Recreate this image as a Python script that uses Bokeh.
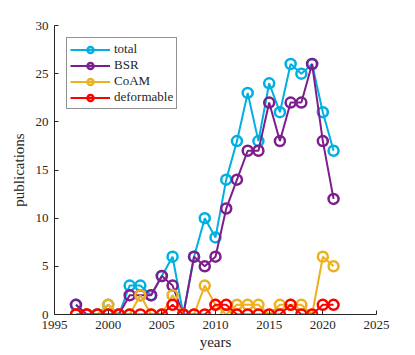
from bokeh.plotting import figure
from bokeh.models import Range1d, FixedTicker, Legend
from bokeh.embed import file_html
from bokeh.resources import INLINE

years = list(range(1997, 2022))
total = [1, 0, 0, 1, 0, 3, 3, 2, 4, 6, 0, 6, 10, 8, 14, 18, 23, 18, 24, 21, 26, 25, 26, 21, 17]
bsr = [1, 0, 0, 0, 0, 2, 2, 2, 4, 3, 0, 6, 5, 6, 11, 14, 17, 17, 22, 18, 22, 22, 26, 18, 12]
coam = [0, 0, 0, 1, 0, 0, 2, 0, 0, 2, 0, 0, 3, 1, 0, 1, 1, 1, 0, 1, 1, 1, 0, 6, 5]
deformable = [0, 0, 0, 0, 0, 0, 0, 0, 0, 1, 0, 0, 0, 1, 1, 0, 0, 0, 0, 0, 1, 0, 0, 1, 1]

series = [
    ("total", total, "#00B0E0"),
    ("BSR", bsr, "#7E1E8E"),
    ("CoAM", coam, "#EDB120"),
    ("deformable", deformable, "#FF0000"),
]
x_ticks = [1995, 2000, 2005, 2010, 2015, 2020, 2025]
y_ticks = [0, 5, 10, 15, 20, 25, 30]

FONT = "Liberation Serif"
AX = "#262626"

p = figure(width=410, height=355, output_backend="svg", toolbar_location=None,
           x_range=Range1d(1995, 2025), y_range=Range1d(0, 30),
           min_border_left=54, min_border_right=34, min_border_top=25, min_border_bottom=41)
p.grid.visible = False
p.outline_line_color = None
p.background_fill_color = "white"
p.border_fill_color = "white"

for ax, ticks in ((p.xaxis, x_ticks), (p.yaxis, y_ticks)):
    ax.ticker = FixedTicker(ticks=ticks)
    ax.minor_tick_line_color = None
    ax.major_tick_in = 4
    ax.major_tick_out = 0
    ax.axis_line_color = AX
    ax.major_tick_line_color = AX
    ax.major_label_text_font = FONT
    ax.major_label_text_font_size = "13px"
    ax.major_label_text_color = AX
    ax.axis_label_text_font = FONT
    ax.axis_label_text_font_size = "15px"
    ax.axis_label_text_font_style = "normal"
    ax.axis_label_text_color = AX

p.xaxis.axis_label = "years"
p.yaxis.axis_label = "publications"
p.xaxis.major_label_standoff = 6
p.xaxis.axis_label_standoff = 2
p.yaxis.major_label_standoff = 6
p.yaxis.axis_label_standoff = 6

items = []
for name, vals, col in series:
    l = p.line(years, vals, line_color=col, line_width=2)
    s = p.scatter(years, vals, marker="circle", size=10, line_color=col,
                  line_width=2.5, fill_color=None)
    items.append((name, [l, s]))

leg = Legend(items=items, location="top_left")
leg.margin = 12
leg.padding = 3
leg.spacing = 0
leg.glyph_width = 40
leg.glyph_height = 15
leg.label_height = 15
leg.label_standoff = 4
leg.label_text_font = FONT
leg.label_text_font_size = "13px"
leg.label_text_color = AX
leg.border_line_color = AX
leg.border_line_width = 1
leg.background_fill_alpha = 1
p.add_layout(leg, "center")

open("out.html", "w").write(file_html(p, INLINE))
